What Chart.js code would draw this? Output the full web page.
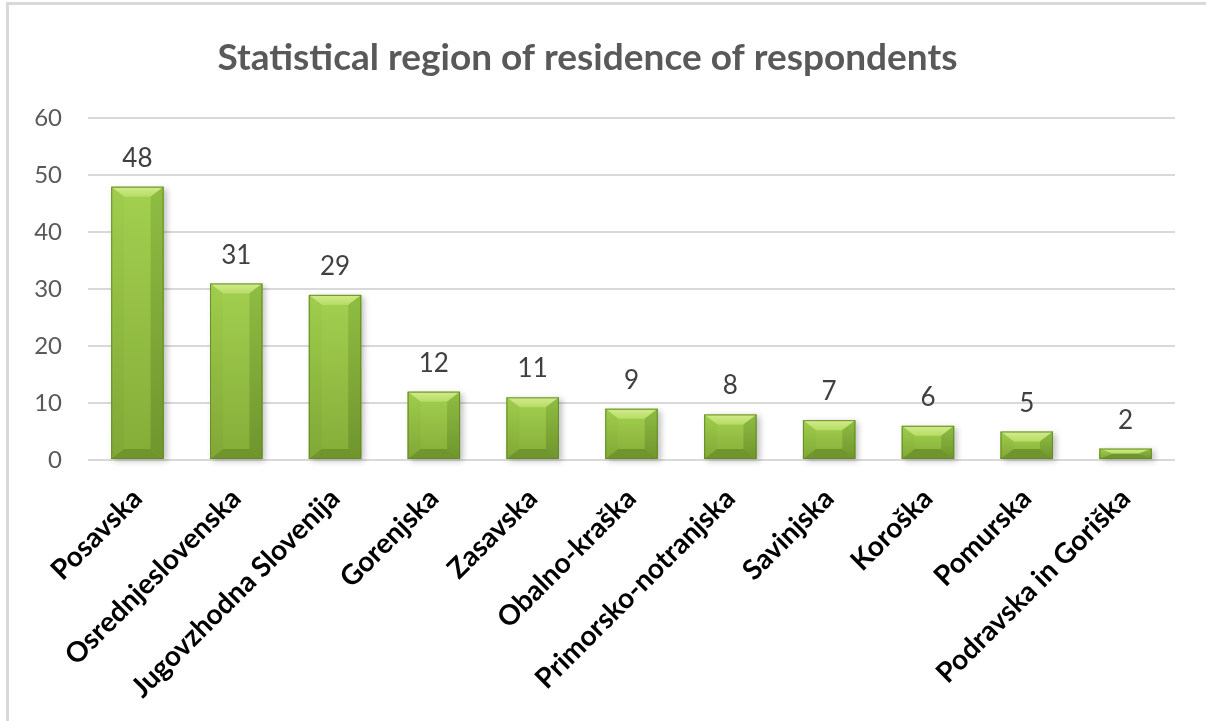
<!DOCTYPE html>
<html>
<head>
<meta charset="utf-8">
<script src="https://cdn.jsdelivr.net/npm/chart.js@4"></script>
<style>
  html, body { margin: 0; padding: 0; background: #fff; }
  #wrap { position: relative; width: 1206px; height: 721px; }
  #frame { position: absolute; left: 6px; top: 2px; right: 0; bottom: 0; border-top: 3px solid #d9d9d9; border-left: 3px solid #d9d9d9; pointer-events: none; }
  canvas { position: absolute; left: 0; top: 0; }
</style>
</head>
<body>
<div id="wrap">
  <canvas id="c" width="1206" height="721"></canvas>
  <div id="frame"></div>
</div>
<script>
const categories = ["Posavska", "Osrednjeslovenska", "Jugovzhodna Slovenija", "Gorenjska", "Zasavska", "Obalno-kraška", "Primorsko-notranjska", "Savinjska", "Koroška", "Pomurska", "Podravska in Goriška"];
const respondents = [48, 31, 29, 12, 11, 9, 8, 7, 6, 5, 2];
const yTicks = [0, 10, 20, 30, 40, 50, 60];
const chartTitle = "Statistical region of residence of respondents";

const FONT = "Lato, 'Open Sans', sans-serif";

const bevelPlugin = {
  id: 'bevel',
  afterDatasetsDraw(chart) {
    const ctx = chart.ctx;
    const meta = chart.getDatasetMeta(0);
    meta.data.forEach((bar) => {
      const p = bar.getProps(['x', 'y', 'base', 'width'], true);
      const l = p.x - p.width / 2, r = p.x + p.width / 2, t = p.y, b = p.base;
      const h = b - t;
      const bx = Math.min(13, p.width / 4);
      const by = Math.min(10, h / 2);
      ctx.save();
      ctx.shadowColor = 'rgba(0,0,0,0.25)';
      ctx.shadowBlur = 6;
      ctx.shadowOffsetX = 3;
      ctx.shadowOffsetY = 2;
      ctx.fillStyle = '#8cb840';
      ctx.fillRect(l, t, p.width, h);
      ctx.restore();
      ctx.save();
      const g = ctx.createLinearGradient(0, t, 0, b);
      g.addColorStop(0, '#a3d050');
      g.addColorStop(1, '#84ad38');
      ctx.fillStyle = g;
      ctx.fillRect(l, t, p.width, h);
      const gt = ctx.createLinearGradient(0, t, 0, t + by);
      gt.addColorStop(0, '#d2ec8e'); gt.addColorStop(1, '#b6dc64');
      ctx.fillStyle = gt;
      ctx.beginPath();
      ctx.moveTo(l, t); ctx.lineTo(r, t); ctx.lineTo(r - bx, t + by); ctx.lineTo(l + bx, t + by); ctx.closePath(); ctx.fill();
      const gl = ctx.createLinearGradient(0, t, 0, b);
      gl.addColorStop(0, '#9fcd4c'); gl.addColorStop(1, '#80a836');
      ctx.fillStyle = gl;
      ctx.beginPath();
      ctx.moveTo(l, t); ctx.lineTo(l + bx, t + by); ctx.lineTo(l + bx, b - by); ctx.lineTo(l, b); ctx.closePath(); ctx.fill();
      const gr = ctx.createLinearGradient(0, t, 0, b);
      gr.addColorStop(0, '#8fbd42'); gr.addColorStop(1, '#6f952d');
      ctx.fillStyle = gr;
      ctx.beginPath();
      ctx.moveTo(r, t); ctx.lineTo(r - bx, t + by); ctx.lineTo(r - bx, b - by); ctx.lineTo(r, b); ctx.closePath(); ctx.fill();
      ctx.fillStyle = '#6f952c';
      ctx.beginPath();
      ctx.moveTo(l, b); ctx.lineTo(l + bx, b - by); ctx.lineTo(r - bx, b - by); ctx.lineTo(r, b); ctx.closePath(); ctx.fill();
      ctx.strokeStyle = 'rgba(100,135,40,0.9)';
      ctx.lineWidth = 1;
      ctx.strokeRect(l + 0.5, t + 0.5, p.width - 1, h - 1);
      ctx.restore();
    });
  }
};

const labelPlugin = {
  id: 'valueLabels',
  afterDatasetsDraw(chart) {
    const ctx = chart.ctx;
    const meta = chart.getDatasetMeta(0);
    ctx.save();
    ctx.font = "26px " + FONT;
    ctx.fillStyle = '#404040';
    ctx.textAlign = 'center';
    ctx.textBaseline = 'alphabetic';
    meta.data.forEach((bar, i) => {
      ctx.fillText(String(respondents[i]), bar.x, bar.y - 20);
    });
    ctx.restore();
  }
};

new Chart(document.getElementById('c'), {
  type: 'bar',
  data: {
    labels: categories,
    datasets: [{
      data: respondents,
      backgroundColor: 'rgba(0,0,0,0)',
      borderWidth: 0,
      barPercentage: 0.53,
      categoryPercentage: 1.0
    }]
  },
  options: {
    responsive: false,
    animation: false,
    devicePixelRatio: 1,
    layout: { padding: { left: 0, right: 31, top: 0, bottom: 0 } },
    plugins: {
      legend: { display: false },
      tooltip: { enabled: false },
      title: {
        display: true,
        text: chartTitle,
        color: '#595959',
        font: { family: FONT, size: 37, weight: 'bold', lineHeight: 1.2 },
        padding: { top: 36, bottom: 38 }
      }
    },
    scales: {
      x: {
        grid: { display: false, drawTicks: false },
        border: { display: false },
        ticks: {
          color: '#000',
          font: { family: FONT, size: 28, weight: 'bold' },
          minRotation: 45, maxRotation: 45,
          padding: 22,
          autoSkip: false
        },
        afterFit(scale) { scale.height = 261; }
      },
      y: {
        min: 0, max: 60,
        afterBuildTicks(scale) { scale.ticks = yTicks.map(v => ({ value: v })); },
        grid: { color: '#d9d9d9', lineWidth: 2, drawTicks: false },
        border: { display: false },
        ticks: {
          color: '#595959',
          font: { family: FONT, size: 24 },
          padding: 26
        },
        afterFit(scale) { scale.width = 88; }
      }
    }
  },
  plugins: [bevelPlugin, labelPlugin]
});
</script>
</body>
</html>
